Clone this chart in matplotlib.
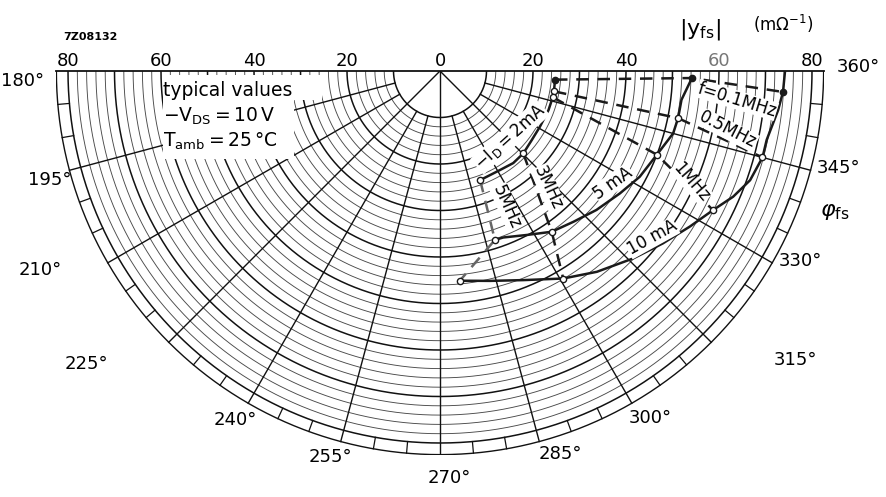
import numpy as np
import matplotlib.pyplot as plt
from matplotlib.patches import Polygon

plt.rcParams['font.family'] = ['DejaVu Sans']

# |y_fs| in mOhm^-1 and phase phi_fs in degrees
mag_2ma = [24.8, 24.9, 24.9, 24.8, 24.6, 24.7, 25.2, 25.3, 24.9, 25.0]
phi_2ma = [355.7, 349.9, 346.9, 340.2, 330.9, 323.0, 315.3, 308.5, 301.2, 290.2]
mag_5ma = [54.2, 52.3, 52.2, 51.9, 50.0, 48.6, 46.8, 45.0, 43.3, 42.1, 39.9, 38.3, 38.2]
phi_5ma = [358.4, 353.2, 348.8, 345.0, 338.9, 332.1, 325.8, 318.4, 311.5, 304.8, 297.9, 290.8, 288.0]
mag_10ma = [74.2, 73.9, 73.2, 71.8, 71.8, 70.7, 68.6, 65.9, 63.3, 60.6, 57.9, 54.8, 51.9, 48.4, 46.4, 45.3]
phi_10ma = [360.0, 356.5, 353.4, 348.1, 345.0, 340.6, 336.8, 333.0, 328.1, 322.3, 315.9, 308.0, 300.7, 291.7, 283.4, 275.4]

# which points of each curve are the frequency points 0.1, 0.5, 1, 3, 5 MHz
freqs = ['0.1', '0.5', '1', '3', '5']
idx_2ma = [0, 1, 2, 6, 9]
idx_5ma = [0, 2, 4, 9, 12]
idx_10ma = [1, 4, 7, 12, 15]

angle_ticks = [180, 195, 210, 225, 240, 255, 270, 285, 300, 315, 330, 345, 360]
mag_ticks = [0, 20, 40, 60, 80]


def pol(mag, phi):
    mag = np.asarray(mag, float)
    a = np.radians(phi)
    return mag * np.cos(a), mag * np.sin(a)


W, H = 886, 497
fig = plt.figure(figsize=(W / 100, H / 100), dpi=100)

cx, cy = 440, 71      # pole, pixels from top left
R = 82.5              # outer edge of the scale band
k = 4.65              # pixels per unit
ax = fig.add_axes([(cx - R * k) / W, (H - cy - R * k) / H, 2 * R * k / W, R * k / H])
ax.set_xlim(-R, R)
ax.set_ylim(-R, 0)
ax.set_axis_off()


def px(x, y):
    return x / W, 1 - y / H


# grid
th = np.linspace(180, 360, 600)
for r in range(10, 81, 2):
    bold = r % 10 == 0
    ax.plot(*pol(np.full_like(th, r), th), color='#111' if bold else '#4a4a4a',
            lw=1.1 if bold else 0.65, zorder=1)
ax.plot(*pol(np.full_like(th, R), th), color='#111', lw=1.0, zorder=1)

for a in range(195, 360, 15):
    r0 = 0 if a in (225, 270, 315) else 10
    ax.plot(*pol([r0, R], [a, a]), color='#111', lw=1.0, zorder=1)
for a in range(185, 360, 5):
    if a % 15:
        ax.plot(*pol([80, R], [a, a]), color='#111', lw=0.9, zorder=1)
ax.plot([-R, R], [0, 0], color='#111', lw=1.3, zorder=1, clip_on=False)

# white box behind the conditions text
fig.patches.append(Polygon([px(163, 75), px(322, 75), px(322, 100), px(294, 100),
                            px(294, 159), px(163, 159)], closed=True,
                           transform=fig.transFigure, facecolor='white',
                           edgecolor='none', zorder=1))

# I_D curves
for mag, phi in [(mag_2ma, phi_2ma), (mag_5ma, phi_5ma), (mag_10ma, phi_10ma)]:
    ax.plot(*pol(mag, phi), color='#1a1a1a', lw=1.8, zorder=3)

# constant-frequency lines
for j, f in enumerate(freqs):
    ph = [phi_2ma[idx_2ma[j]], phi_5ma[idx_5ma[j]], phi_10ma[idx_10ma[j]]]
    mg = [mag_2ma[idx_2ma[j]], mag_5ma[idx_5ma[j]], mag_10ma[idx_10ma[j]]]
    col = '#666' if f == '5' else '#1a1a1a'
    ax.plot(*pol(mg, ph), color=col, lw=1.8, ls=(0, (5, 3.5)), zorder=3)
    face = '#1a1a1a' if f == '0.1' else 'white'
    ax.plot(*pol(mg, ph), ls='none', marker='o', ms=4.5, mfc=face,
            mec='#1a1a1a', mew=1.0, zorder=4)

# where each angle label sits: (angle, radius)
ang_label_pos = {180: (181.4, 89.9), 195: (195.6, 87.1), 210: (206.5, 96.1),
                 225: (219.7, 98.7), 240: (239.6, 87.0), 255: (254.1, 86.3),
                 270: (271.3, 87.5), 285: (287.4, 86.3), 300: (301.2, 87.2),
                 315: (320.9, 98.4), 330: (332.2, 87.7), 345: (346.3, 88.1),
                 360: (360.5, 89.9)}
for a in angle_ticks:
    t, rr = ang_label_pos[a]
    x, y = pol([rr], [t])
    ax.text(x[0], y[0], f'{a}°', ha='center', va='center', fontsize=13, clip_on=False)

# magnitude labels along the top line
for v in mag_ticks:
    for s in ([1] if v == 0 else [-1, 1]):
        ax.annotate(str(v), xy=(s * v, 0), xytext=(0, 10), textcoords='offset pixels',
                    ha='center', va='center', fontsize=13,
                    color='#777' if (v == 60 and s > 0) else 'black')

# text
fig.text(*px(90, 37), '7Z08132', fontsize=8, fontweight='bold', ha='center', va='center')
fig.text(*px(700, 30), r'$\mathregular{|y_{fs}|}$', fontsize=16, ha='center', va='center')
fig.text(*px(783, 24), r'$\mathregular{(m\Omega^{-1})}$', fontsize=12, ha='center', va='center')
fig.text(*px(835, 212), r'$\varphi_{\mathregular{fs}}$', fontsize=16, ha='center', va='center')

fig.text(*px(163, 91), 'typical values', fontsize=13.5, ha='left', va='center', zorder=5)
fig.text(*px(163, 116), r'$\mathregular{-V_{DS}=10\,V}$', fontsize=13.5, ha='left', va='center', zorder=5)
fig.text(*px(163, 141), r'$\mathregular{T_{amb}=25\,°C}$', fontsize=13.5, ha='left', va='center', zorder=5)

curve_txt = [
    (r'$\mathregular{-I_D= 2mA}$', 510, 137, 42),
    ('5 mA', 613, 183, 35),
    ('10 mA', 652, 238, 29),
    ('f=0.1MHz', 737, 100, -17),
    ('0.5MHz', 728, 130, -27),
    ('1MHz', 691, 182, -49),
    ('3MHz', 548, 188, -65),
    ('5MHz', 507, 207, -66),
]
for s, x, y, rot in curve_txt:
    fig.text(*px(x, y), s, fontsize=12, rotation=rot, ha='center', va='center',
             rotation_mode='anchor', zorder=5,
             bbox=dict(facecolor='white', edgecolor='none', pad=0.3))

fig.savefig('out.png', dpi=100, facecolor='white')
